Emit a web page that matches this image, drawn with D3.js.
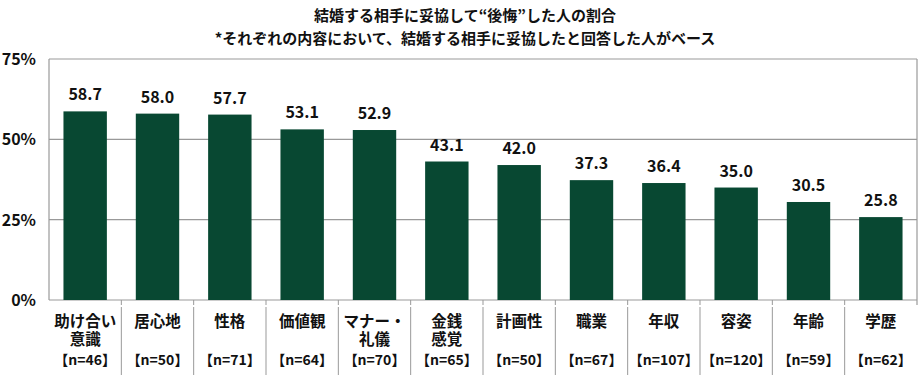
<!DOCTYPE html>
<html>
<head>
<meta charset="utf-8">
<script src="https://d3js.org/d3.v7.min.js"></script>
<style>
  body { margin: 0; background: #fff; }
  svg { display: block; }
  text { font-family: "Noto Sans CJK JP", "Noto Sans", sans-serif; }
</style>
</head>
<body>
<svg id="chart" width="920" height="375"></svg>
<script>
// data
var categories = [["助け合い", "意識"], ["居心地"], ["性格"], ["価値観"], ["マナー・", "礼儀"], ["金銭", "感覚"],
                  ["計画性"], ["職業"], ["年収"], ["容姿"], ["年齢"], ["学歴"]];
var values = [58.7, 58.0, 57.7, 53.1, 52.9, 43.1, 42.0, 37.3, 36.4, 35.0, 30.5, 25.8];
var sampleSizes = [46, 50, 71, 64, 70, 65, 50, 67, 107, 120, 59, 62];
var yTicks = [0, 25, 50, 75];

var svg = d3.select("#chart");
var plotLeft = 49, plotRight = 917, plotTop = 59, plotBottom = 300;

var x = d3.scaleBand()
  .domain(d3.range(values.length))
  .range([plotLeft, plotRight])
  .paddingInner(0.4)
  .paddingOuter(0.2);

var y = d3.scaleLinear().domain([0, 75]).range([plotBottom, plotTop]);

// title
svg.append("text").attr("x", 465).attr("y", 21).attr("text-anchor", "middle")
  .attr("font-size", 15).attr("font-weight", "bold").attr("fill", "#111")
  .text("結婚する相手に妥協して“後悔”した人の割合");
svg.append("text").attr("x", 465).attr("y", 44).attr("text-anchor", "middle")
  .attr("font-size", 15).attr("font-weight", "bold").attr("fill", "#111")
  .text("*それぞれの内容において、結婚する相手に妥協したと回答した人がベース");

// gridlines
svg.append("g").selectAll("line").data(yTicks).join("line")
  .attr("x1", plotLeft).attr("x2", plotRight)
  .attr("y1", d => y(d)).attr("y2", d => y(d))
  .attr("stroke", "#999").attr("stroke-width", 1.2);

// right border + left axis
svg.append("line").attr("x1", plotRight).attr("x2", plotRight).attr("y1", plotTop).attr("y2", plotBottom + 5)
  .attr("stroke", "#999").attr("stroke-width", 1.2);
svg.append("line").attr("x1", plotLeft).attr("x2", plotLeft).attr("y1", plotTop).attr("y2", plotBottom)
  .attr("stroke", "#999").attr("stroke-width", 1.2);

// y tick labels
svg.append("g").selectAll("text").data(yTicks).join("text")
  .attr("x", 36).attr("y", d => y(d) + 6)
  .attr("text-anchor", "end").attr("font-size", 16).attr("font-weight", "bold")
  .attr("font-family", "Liberation Sans, Arial, sans-serif").attr("fill", "#111")
  .text(d => d + "%");

// category ticks and separators
var step = x.step();
var bounds = d3.range(1, values.length).map(i => x(i) - x.paddingInner() * step / 2);
svg.append("g").selectAll("line").data(bounds).join("line")
  .attr("x1", d => d).attr("x2", d => d).attr("y1", plotBottom).attr("y2", plotBottom + 5)
  .attr("stroke", "#999");
svg.append("g").selectAll("line").data(bounds).join("line")
  .attr("x1", d => d).attr("x2", d => d).attr("y1", 307).attr("y2", 375)
  .attr("stroke", "#999");

// bars
svg.append("g").selectAll("rect").data(values).join("rect")
  .attr("x", (d, i) => x(i)).attr("width", x.bandwidth())
  .attr("y", d => y(d)).attr("height", d => y(0) - y(d))
  .attr("fill", "#084832");

// value labels
svg.append("g").selectAll("text").data(values).join("text")
  .attr("x", (d, i) => x(i) + x.bandwidth() / 2).attr("y", d => y(d) - 11)
  .attr("text-anchor", "middle").attr("font-size", 16).attr("font-weight", "bold")
  .attr("font-family", "Liberation Sans, Arial, sans-serif").attr("fill", "#111")
  .text(d => d.toFixed(1));

// category labels
var cat = svg.append("g").selectAll("g").data(categories).join("g")
  .attr("transform", (d, i) => "translate(" + (x(i) + x.bandwidth() / 2) + ",0)");
cat.each(function(lines) {
  var g = d3.select(this);
  lines.forEach(function(t, j) {
    g.append("text").attr("y", 327 + j * 18).attr("text-anchor", "middle")
      .attr("font-size", 15.5).attr("font-weight", "bold").attr("fill", "#111").text(t);
  });
});
cat.append("text").attr("y", 365).attr("text-anchor", "middle")
  .attr("font-size", 14).attr("font-weight", "bold").attr("fill", "#111")
  .text((d, i) => "【n=" + sampleSizes[i] + "】");
</script>
</body>
</html>
